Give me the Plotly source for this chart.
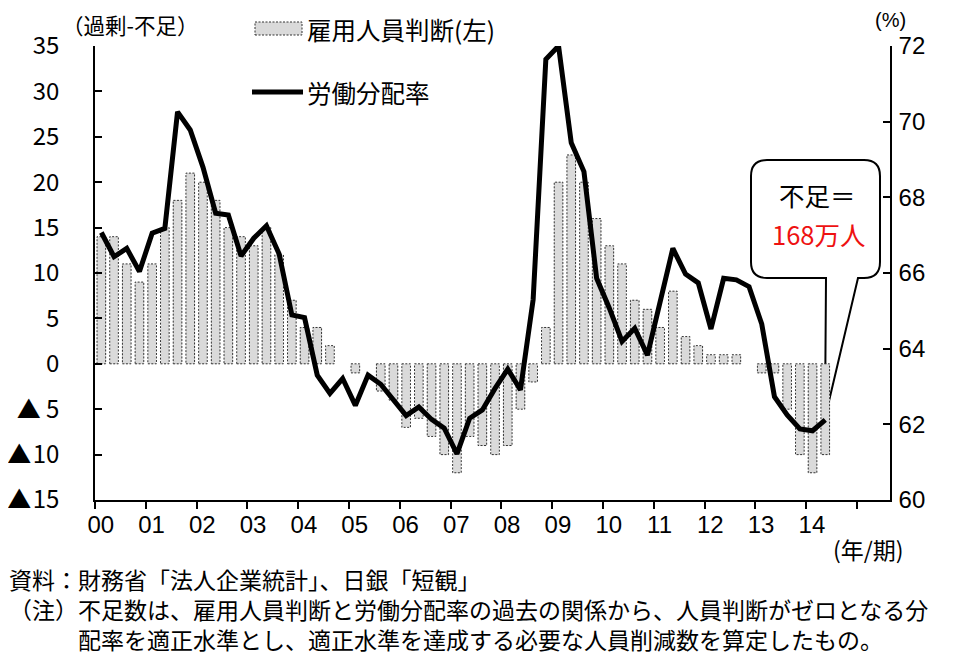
import plotly.graph_objects as go

# ---- data (quarterly, 2000Q1 .. 2014Q2) ----
year_labels = ["00", "01", "02", "03", "04", "05", "06", "07", "08", "09",
               "10", "11", "12", "13", "14"]
employment_di = [14, 14, 11, 9, 11, 15, 18, 21, 20, 18, 15, 14, 13, 15, 12, 7,
                 4, 4, 2, 0, -1, 0, -3, -4, -7, -6, -8, -10, -12, -8, -9, -10,
                 -9, -5, -2, 4, 20, 23, 20, 16, 13, 11, 7, 6, 4, 8, 3, 2,
                 1, 1, 1, 0, -1, -1, -5, -10, -12, -10]
labor_share = [67.07, 66.43, 66.65, 66.04, 67.05, 67.18, 70.26, 69.78, 68.8, 67.58,
               67.53, 66.45, 66.92, 67.25, 66.5, 64.89, 64.82, 63.3, 62.82, 63.21,
               62.5, 63.3, 63.06, 62.64, 62.23, 62.46, 62.13, 61.9, 61.22, 62.16,
               62.38, 62.95, 63.46, 62.91, 65.3, 71.65, 72.0, 69.44, 68.68, 65.86,
               65.07, 64.19, 64.54, 63.83, 65.3, 66.65, 65.97, 65.74, 64.52, 65.86,
               65.82, 65.64, 64.65, 62.73, 62.25, 61.88, 61.83, 62.12]
left_ticks = [35, 30, 25, 20, 15, 10, 5, 0, -5, -10, -15]
left_ticktext = ["35", "30", "25", "20", "15", "10", "5", "0",
                 "▲ 5", "▲\u200a10", "▲\u200a15"]
right_ticks = [72, 70, 68, 66, 64, 62, 60]

n = len(employment_di)
xq = [i + 0.5 for i in range(n)]
half_w = 0.34

# dashed outlines of bars, built from the data
ox, oy = [], []
for x, v in zip(xq, employment_di):
    if v == 0:
        continue
    ox += [x - half_w, x + half_w, x + half_w, x - half_w, x - half_w, None]
    oy += [0, 0, v, v, 0, None]

NUM_FONT = "Liberation Sans, Noto Sans CJK JP, sans-serif"
TICK_FONT = "Noto Sans CJK JP, sans-serif"
JP_FONT = "Noto Sans CJK JP, sans-serif"

fig = go.Figure()
fig.add_trace(go.Bar(x=xq, y=employment_di, width=2 * half_w,
                     marker=dict(color="#dadada", line=dict(width=0)),
                     name="雇用人員判断(左)", showlegend=False))
fig.add_trace(go.Scatter(x=ox, y=oy, mode="lines",
                         line=dict(color="#333333", width=1, dash="2px,1.5px"),
                         hoverinfo="skip", showlegend=False))
fig.add_trace(go.Scatter(x=xq, y=labor_share, yaxis="y2", mode="lines",
                         line=dict(color="black", width=5),
                         name="労働分配率", showlegend=False))

# page coordinates (the page body adds an 8px offset)
OFF = 8
L, R, T, B = 95, 890, 46, 500
W, H = 960 - OFF, 659 - OFF


def px(x):
    return (x - L) / (R - L)


def py(y):
    return (B - y) / (B - T)


fig.update_layout(
    width=W, height=H, autosize=False, showlegend=False,
    margin=dict(l=L - OFF, r=W - (R - OFF), t=T - OFF, b=H - (B - OFF), pad=0,
                autoexpand=False),
    paper_bgcolor="white", plot_bgcolor="white",
    bargap=0,
    xaxis=dict(range=[0, (R - L) / 12.7], tickmode="array", automargin=False,
               tickvals=[4 * k + 0.45 for k in range(len(year_labels))],
               ticktext=year_labels, ticks="", showgrid=False, zeroline=False,
               showline=True, linecolor="black", linewidth=1.5,
               tickfont=dict(family=NUM_FONT, size=24, color="black"),
               ticklabelstandoff=2,
               minor=dict(tickmode="array", tickvals=[4 * k for k in range(16)],
                          ticks="outside", ticklen=7, tickcolor="black", tickwidth=1.5,
                          showgrid=False)),
    yaxis=dict(range=[-15, 35], tickmode="array", tickvals=left_ticks, automargin=False,
               ticktext=left_ticktext, ticks="inside", ticklen=7, tickwidth=1.5,
               tickcolor="black", showgrid=False, zeroline=False, showline=True,
               linecolor="black", linewidth=1.5,
               tickfont=dict(family=TICK_FONT, size=24, color="black"),
               ticklabelstandoff=29),
    yaxis2=dict(range=[60, 72], overlaying="y", side="right", tickmode="array",
                automargin=False,
                tickvals=right_ticks, ticks="inside", ticklen=7, tickwidth=1.5,
                tickcolor="black", showgrid=False, zeroline=False, showline=True,
                linecolor="black", linewidth=1.5,
                tickfont=dict(family=NUM_FONT, size=24, color="black"),
                ticklabelstandoff=2),
)

# callout bubble
r = 16
bl, br, bt, bb = 751, 880, 160, 278
pts = [("M", bl + r, bt), ("L", br - r, bt), ("Q", br, bt, br, bt + r),
       ("L", br, bb - r), ("Q", br, bb, br - r, bb), ("L", 858, bb),
       ("L", 825, 418), ("L", 826, bb), ("L", bl + r, bb),
       ("Q", bl, bb, bl, bb - r), ("L", bl, bt + r), ("Q", bl, bt, bl + r, bt)]
path = ""
for p in pts:
    cmd = p[0]
    coords = p[1:]
    s = " ".join(f"{px(coords[j]):.5f},{py(coords[j + 1]):.5f}" for j in range(0, len(coords), 2))
    path += f"{cmd}{s} "
path += "Z"
fig.add_shape(type="path", path=path, xref="paper", yref="paper",
              line=dict(color="black", width=2), fillcolor="white", layer="below")

# legend icons
fig.add_shape(type="rect", xref="paper", yref="paper",
              x0=px(255), x1=px(302), y0=py(35), y1=py(22),
              line=dict(color="#333333", width=1, dash="2px,1.5px"), fillcolor="#dadada")
fig.add_shape(type="line", xref="paper", yref="paper",
              x0=px(252), x1=px(303), y0=py(92), y1=py(92),
              line=dict(color="black", width=5))

ann = [
    dict(x=px(305), y=py(29), text="雇用人員判断(左)", xanchor="left", size=24.5,
         color="black", font=JP_FONT),
    dict(x=px(305), y=py(92), text="労働分配率", xanchor="left", size=24.5,
         color="black", font=JP_FONT),
    dict(x=px(60), y=py(24), text="（過剰-不足）", xanchor="left", size=21.5,
         color="black", font=JP_FONT),
    dict(x=px(908), y=py(20), text="(%)", xanchor="right", size=20,
         color="black", font="Liberation Sans, sans-serif"),
    dict(x=px(906), y=py(549), text="(年/期)", xanchor="right", size=23,
         color="black", font=JP_FONT),
    dict(x=px(817), y=py(194), text="不足＝", xanchor="center", size=25.5,
         color="black", font=JP_FONT),
    dict(x=px(818), y=py(233), text="168万人", xanchor="center", size=25.5,
         color="#ee1111", font=JP_FONT),
]
for a in ann:
    fig.add_annotation(x=a["x"], y=a["y"], xref="paper", yref="paper", text=a["text"],
                       showarrow=False, xanchor=a["xanchor"], yanchor="middle",
                       font=dict(family=a["font"], size=a["size"], color=a["color"]))

footnote = ("資料：財務省「法人企業統計」、日銀「短観」<br>"
            "（注）不足数は、雇用人員判断と労働分配率の過去の関係から、人員判断がゼロとなる分<br>"
            "　　　配率を適正水準とし、適正水準を達成する必要な人員削減数を算定したもの。")
fig.add_annotation(x=px(7), y=py(566), xref="paper", yref="paper", text=footnote,
                   showarrow=False, xanchor="left", yanchor="top", align="left",
                   font=dict(family="Liberation Sans, Noto Sans CJK JP, sans-serif",
                             size=23, color="black"))

fig.write_html("out.html")
